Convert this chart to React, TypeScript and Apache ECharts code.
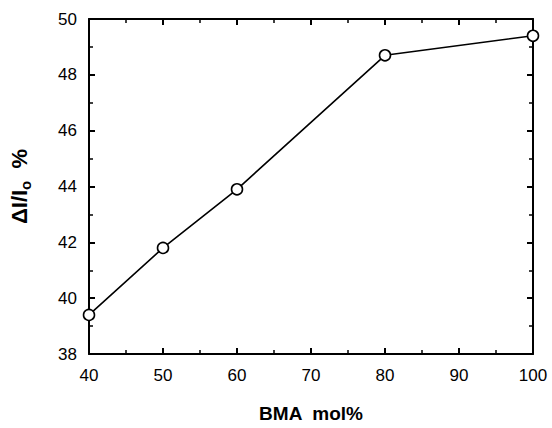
import React, { useEffect, useRef } from "react";
import * as echarts from "echarts";

// BMA content (mol%) and relative intensity change ΔI/I₀ (%)
const bmaMolPercent = [40, 50, 60, 80, 100];
const deltaIRatio = [39.4, 41.8, 43.9, 48.7, 49.4];

const xTicks = { min: 40, max: 100, interval: 10 };
const yTicks = { min: 38, max: 50, interval: 2 };

const FONT = "Liberation Sans";

export default function App() {
  const ref = useRef<HTMLDivElement>(null);

  useEffect(() => {
    if (!ref.current) return;
    const chart = echarts.init(ref.current, undefined, { renderer: "svg" });

    const axisLine = { show: true, onZero: false, lineStyle: { color: "#000", width: 2 } };
    const axisTick = { show: true, inside: true, length: 6, lineStyle: { color: "#000", width: 2 } };
    const minorTick = { show: true, splitNumber: 2, length: 4, lineStyle: { color: "#000", width: 1.5 } };

    const baseX = {
      type: "value" as const,
      min: xTicks.min,
      max: xTicks.max,
      interval: xTicks.interval,
      axisLine,
      axisTick,
      minorTick,
      splitLine: { show: false },
    };
    const baseY = {
      type: "value" as const,
      min: yTicks.min,
      max: yTicks.max,
      interval: yTicks.interval,
      axisLine,
      axisTick,
      minorTick,
      splitLine: { show: false },
    };

    chart.setOption({
      animation: false,
      backgroundColor: "#fff",
      grid: { left: 86, right: 19, top: 19, bottom: 68, containLabel: false },
      xAxis: [
        {
          ...baseX,
          position: "bottom",
          name: "BMA  mol%",
          nameLocation: "middle",
          nameGap: 50,
          nameTextStyle: { fontFamily: FONT, fontSize: 19, fontWeight: "bold", color: "#000" },
          axisLabel: { fontFamily: FONT, fontSize: 17, color: "#000", margin: 13 },
        },
        { ...baseX, position: "top", axisLabel: { show: false } },
      ],
      yAxis: [
        {
          ...baseY,
          position: "left",
          name: "{a|ΔI/I}{s|o}{a|  %}",
          nameLocation: "middle",
          nameRotate: 90,
          nameGap: 56,
          nameTextStyle: {
            rich: {
              a: { fontFamily: FONT, fontSize: 22, fontWeight: "bold", color: "#000", lineHeight: 28 },
              s: {
                fontFamily: FONT,
                fontSize: 15,
                fontWeight: "bold",
                color: "#000",
                lineHeight: 28,
                verticalAlign: "bottom",
                padding: [8, 0, 0, 0],
              },
            },
          },
          axisLabel: { fontFamily: FONT, fontSize: 17, color: "#000", margin: 12 },
        },
        { ...baseY, position: "right", axisLabel: { show: false } },
      ],
      series: [
        {
          type: "line",
          data: bmaMolPercent.map((x, i) => [x, deltaIRatio[i]]),
          symbol: "circle",
          symbolSize: 11,
          lineStyle: { color: "#000", width: 1.6 },
          itemStyle: { color: "#fff", borderColor: "#000", borderWidth: 1.6 },
          z: 5,
        },
      ],
    });

    return () => chart.dispose();
  }, []);

  return (
    <div
      ref={ref}
      style={{ position: "absolute", left: 0, top: 0, width: 552, height: 428 }}
    />
  );
}
